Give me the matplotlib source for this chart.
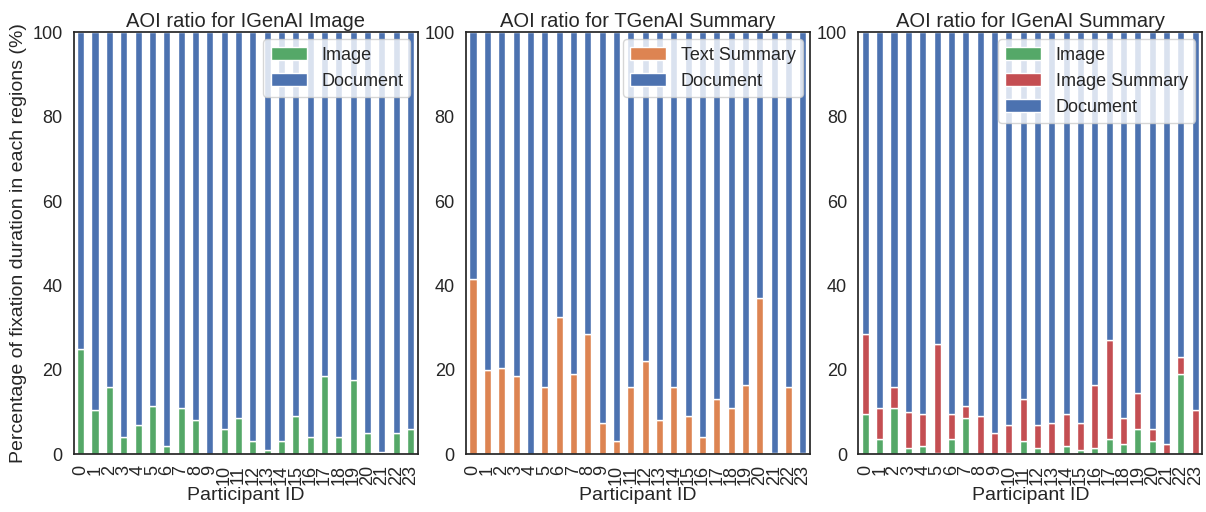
import numpy as np
import pandas as pd
import matplotlib
matplotlib.use("Agg")
import matplotlib.pyplot as plt
import seaborn as sns

participants = list(range(24))

# IGenAI Image: percent of fixation on image
igen_image = [25, 10.5, 16, 4, 7, 11.5, 2, 11, 8, 0, 6, 8.5,
              3, 1, 3, 9, 4, 18.5, 4, 17.5, 5, 0.5, 5, 6]

# TGenAI Summary: percent on text summary
tgen_summary = [41.5, 20, 20.5, 18.5, 0, 16, 32.5, 19, 28.5, 7.5, 3, 16,
                22, 8, 16, 9, 4, 13, 11, 16.5, 37, 0.3, 16, 0.3]

# IGenAI Summary: image and image summary
igs_image = [9.5, 3.5, 11, 1.5, 2, 0.3, 3.5, 8.5, 0, 0, 0.3, 3,
             1.5, 0, 2, 1, 1.5, 3.5, 2.5, 6, 3, 0, 19, 0]
igs_summary = [19, 7.5, 5, 8.5, 7.5, 25.7, 6, 3, 9, 5, 6.7, 10,
               5.5, 7.5, 7.5, 6.5, 15, 23.5, 6, 8.5, 3, 2.5, 4, 10.5]

sns.set_theme(style="white")
plt.rcParams["font.family"] = ["Liberation Sans", "DejaVu Sans"]
pal = sns.color_palette("deep")
blue, orange, green, red = pal[0], pal[1], pal[2], pal[3]

df1 = pd.DataFrame({"Image": igen_image}, index=participants)
df1["Document"] = 100 - df1["Image"]

df2 = pd.DataFrame({"Text Summary": tgen_summary}, index=participants)
df2["Document"] = 100 - df2["Text Summary"]

df3 = pd.DataFrame({"Image": igs_image, "Image Summary": igs_summary}, index=participants)
df3["Document"] = 100 - df3["Image"] - df3["Image Summary"]

fig, axes = plt.subplots(1, 3, figsize=(12.06, 5.12), dpi=100)
plt.subplots_adjust(left=0.061, right=0.997, top=0.937, bottom=0.113, wspace=0.14)

df1.plot(kind="bar", stacked=True, ax=axes[0], color=[green, blue])
df2.plot(kind="bar", stacked=True, ax=axes[1], color=[orange, blue])
df3.plot(kind="bar", stacked=True, ax=axes[2], color=[green, red, blue])

titles = ["AOI ratio for IGenAI Image", "AOI ratio for TGenAI Summary",
          "AOI ratio for IGenAI Summary"]
for ax, t in zip(axes, titles):
    ax.set_title(t, fontsize=14.5, pad=4)
    ax.set_ylim(0, 100)
    ax.set_xlabel("Participant ID", fontsize=14, labelpad=1)
    ax.tick_params(axis="both", labelsize=13, pad=2)
    ax.legend(loc="upper right", fontsize=13, borderaxespad=0.4,
              handletextpad=0.8, borderpad=0.4, labelspacing=0.5)
axes[0].set_ylabel("Percentage of fixation duration in each regions (%)", fontsize=14)

plt.savefig("out.png", dpi=100)
